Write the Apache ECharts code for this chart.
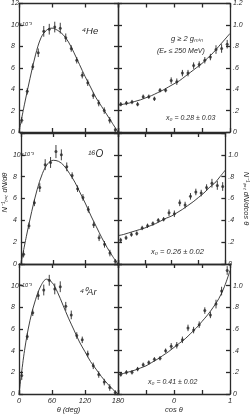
<!DOCTYPE html>
<html><head><meta charset="utf-8">
<script src="https://cdn.jsdelivr.net/npm/echarts@6/dist/echarts.min.js"></script>
<style>html,body{margin:0;padding:0;background:#fff}#c{width:251px;height:415px}</style>
</head><body><div id="c"></div>
<script>
// ---- data ----
const theta = [5,15,25,35,45,55,65,75,85,95,105,115,125,135,145,155,165,175];
const heVal = [1.1,3.8,6.1,7.4,9.4,9.6,9.8,9.7,8.8,7.8,6.7,5.3,4.6,3.4,2.7,2.0,1.1,0.2];
const heErr = [0.3,0.3,0.3,0.4,0.5,0.5,0.5,0.5,0.4,0.3,0.3,0.3,0.3,0.3,0.3,0.3,0.3,0.2];
const oVal  = [0.9,3.5,5.6,7.0,9.1,9.3,10.3,10.0,8.9,8.1,6.9,6.1,5.0,3.6,2.4,1.8,1.0,0.25];
const oErr  = [0.3,0.3,0.3,0.4,0.5,0.5,0.6,0.5,0.4,0.3,0.3,0.3,0.3,0.3,0.3,0.3,0.3,0.2];
const arVal = [1.7,5.3,7.5,9.1,9.6,10.5,9.7,9.9,8.1,7.3,5.4,5.0,3.7,2.6,1.8,1.1,0.6,0.15];
const arErr = [0.4,0.3,0.3,0.4,0.5,0.5,0.5,0.5,0.4,0.4,0.3,0.3,0.3,0.3,0.3,0.3,0.3,0.2];

const thetaCurveX = [0,10,20,30,40,50,60,70,80,90,100,110,120,130,140,150,160,170,180];
const heCurve = [0,2.6,5.0,7.2,8.8,9.5,9.7,9.5,9.1,8.4,7.4,6.3,5.2,4.2,3.2,2.4,1.6,0.8,0];
const oCurve  = [0,2.5,4.8,6.8,8.3,9.2,9.5,9.4,9.0,8.3,7.5,6.5,5.5,4.4,3.4,2.4,1.5,0.7,0];
const arCurve = [0,4.0,6.8,8.7,10.0,10.6,10.3,9.4,8.2,7.0,5.9,4.8,3.9,3.0,2.3,1.6,1.0,0.45,0];

const cosBins = [-0.95,-0.85,-0.75,-0.65,-0.55,-0.45,-0.35,-0.25,-0.15,-0.05,0.05,0.15,0.25,0.35,0.45,0.55,0.65,0.75,0.85,0.95];
const heCos = [0.26,0.27,0.28,0.26,0.33,0.33,0.31,0.39,0.39,0.48,0.47,0.55,0.55,0.62,0.63,0.67,0.70,0.77,0.78,0.82];
const oCos  = [0.22,0.24,0.27,0.28,0.33,0.35,0.37,0.40,0.41,0.47,0.46,0.56,0.54,0.62,0.66,0.65,0.70,0.74,0.72,0.71];
const arCos = [0.18,0.20,0.20,0.23,0.27,0.29,0.32,0.33,0.40,0.44,0.45,0.50,0.61,0.59,0.64,0.77,0.73,0.83,0.95,1.14];
const cosErr = [0.02,0.02,0.02,0.02,0.02,0.02,0.02,0.02,0.02,0.03,0.03,0.03,0.03,0.03,0.03,0.03,0.03,0.04,0.04,0.04];

const cosCurveX = [-1,-0.9,-0.8,-0.7,-0.6,-0.5,-0.4,-0.3,-0.2,-0.1,0,0.1,0.2,0.3,0.4,0.5,0.6,0.7,0.8,0.9,1];
const heCosCurve = [0.25,0.26,0.27,0.285,0.30,0.32,0.34,0.365,0.39,0.42,0.45,0.48,0.52,0.56,0.60,0.64,0.69,0.74,0.80,0.86,0.92];
const oCosCurve  = [0.26,0.27,0.285,0.30,0.315,0.33,0.35,0.37,0.395,0.42,0.44,0.47,0.50,0.535,0.57,0.61,0.65,0.70,0.74,0.80,0.86];
const arCosCurve = [0.18,0.19,0.205,0.22,0.24,0.26,0.29,0.32,0.355,0.39,0.43,0.47,0.51,0.56,0.61,0.67,0.73,0.80,0.88,0.99,1.14];

const thetaTicks = ['0','60','120','180'];
const nuclei = ['\u2074He','\u00b9\u2076O','\u2074\u2070Ar'];
const fitLabels = ['x\u2080 = 0.28 \u00b1 0.03','x\u2080 = 0.26 \u00b1 0.02','x\u2080 = 0.41 \u00b1 0.02'];

// ---- build ----
const FONT = 'Liberation Sans';
const INK = '#2a2a2a';
const rowsTop = [1, 133, 264];
const H = 131;
const leftSets = [[heVal,heErr,heCurve],[oVal,oErr,oCurve],[arVal,arErr,arCurve]];
const rightSets = [[heCos,cosErr,heCosCurve],[oCos,cosErr,oCosCurve],[arCos,cosErr,arCosCurve]];

const grids=[], xAxes=[], yAxes=[], series=[];
const lineStyle = {color: INK, width: 1.3};
const labelStyle = {color: INK, fontSize: 7, fontStyle: 'italic', fontFamily: FONT};

function errRender(params, api){
  const x = api.value(0), y = api.value(1), e = api.value(2);
  const a = api.coord([x, y - e]), b = api.coord([x, y + e]);
  return {type:'line', shape:{x1:a[0], y1:a[1], x2:b[0], y2:b[1]}, style:{stroke: INK, lineWidth: 0.9}};
}

for (let r=0; r<3; r++){
  for (let c=0; c<2; c++){
    const p = grids.length;
    const isLeft = c===0, isBottom = r===2;
    grids.push({left: isLeft?19:118, top: rowsTop[r], width: isLeft?99:112, height: H});
    const axLine = {onZero:false, lineStyle};
    // bottom x
    xAxes.push({
      gridIndex:p, type:'value', position:'bottom',
      min: isLeft?0:-1, max: isLeft?180:1, interval: isLeft?60:0.5,
      axisLine:axLine, axisTick:{inside:true, length:4, lineStyle},
      splitLine:{show:false},
      axisLabel:{show:isBottom, margin:3, ...labelStyle, fontSize:7.5,
        formatter: isLeft ? (v)=>thetaTicks[Math.round(v/60)] : (v)=> (v===0?'0':(v===1?'1':''))},
      name: isBottom ? (isLeft?'\u03b8 (deg)':'cos \u03b8') : '',
      nameLocation:'middle', nameGap: 12,
      nameTextStyle:{color:INK, fontSize:7.5, fontStyle:'italic', fontFamily:FONT}
    });
    // top x
    xAxes.push({
      gridIndex:p, type:'value', position:'top',
      min: isLeft?0:-1, max: isLeft?180:1, interval: isLeft?60:0.5,
      axisLine:axLine, axisTick:{inside:true, length:4, lineStyle},
      splitLine:{show:false}, axisLabel:{show:false}
    });
    // left y
    yAxes.push({
      gridIndex:p, type:'value', position:'left',
      min: 0, max: isLeft?12:1.2, interval: isLeft?2:0.2,
      axisLine:axLine, axisTick:{inside:true, length:4, lineStyle},
      splitLine:{show:false},
      axisLabel:{show:isLeft, align:'left', margin:8, ...labelStyle,
        formatter:(v)=>{
          if (v===12) return r===0 ? '12' : '';
          if (v===10) return '10{s|\u00d710\u207b\u00b3}';
          return String(v);
        },
        rich:{s:{fontSize:5.5, fontStyle:'italic', fontFamily:FONT, color:INK}}
      },
      name: (isLeft && r===1) ? 'N\u207b\u00b9\u209c\u2092\u209c dN/d\u03b8' : '',
      nameLocation:'middle', nameGap: 11, nameRotate: 90,
      nameTextStyle:{color:INK, fontSize:7.5, fontStyle:'italic', fontFamily:FONT, padding:[0,0,0,12]}
    });
    // right y
    yAxes.push({
      gridIndex:p, type:'value', position:'right',
      min: 0, max: isLeft?12:1.2, interval: isLeft?2:0.2,
      axisLine:axLine, axisTick:{inside:true, length:4, lineStyle},
      splitLine:{show:false},
      axisLabel:{show:!isLeft, margin:3, ...labelStyle,
        formatter:(v)=>{
          const t = Math.round(v*10)/10;
          if (t===0) return '0';
          if (t===1.2 && r!==0) return '';
          return t.toFixed(1).replace(/^0/,'');
        }},
      name: (!isLeft && r===1) ? 'N\u207b\u00b9\u209c\u2092\u209c dN/dcos \u03b8' : '',
      nameLocation:'middle', nameGap: 14, nameRotate: -90,
      nameTextStyle:{color:INK, fontSize:7.5, fontStyle:'italic', fontFamily:FONT}
    });
    const xs = isLeft ? theta : cosBins;
    const cx = isLeft ? thetaCurveX : cosCurveX;
    const set = isLeft ? leftSets[r] : rightSets[r];
    const yi = isLeft ? 2*p : 2*p+1;
    series.push({
      type:'line', xAxisIndex:2*p, yAxisIndex:yi, smooth:0.35, showSymbol:false,
      lineStyle:{color:INK, width:0.9}, silent:true,
      data: cx.map((x,i)=>[x, set[2][i]])
    });
    series.push({
      type:'custom', xAxisIndex:2*p, yAxisIndex:yi, renderItem: errRender,
      data: xs.map((x,i)=>[x, set[0][i], set[1][i]]), silent:true
    });
    series.push({
      type:'scatter', xAxisIndex:2*p, yAxisIndex:yi, symbol:'circle', symbolSize:3,
      itemStyle:{color:INK}, silent:true,
      data: xs.map((x,i)=>[x, set[0][i]])
    });
  }
}

const tStyle = (s, size)=>({text:s, fill:INK, fontSize:size, fontStyle:'italic', fontFamily:FONT});
const graphic = [
  {type:'text', left:82, top:26, style:tStyle(nuclei[0], 9.5)},
  {type:'text', left:88, top:149, style:tStyle(nuclei[1], 10)},
  {type:'text', left:80, top:287, style:tStyle(nuclei[2], 9.5)},
  {type:'text', left:171, top:35, style:tStyle('g \u2265 2 g\u2098\u1d62\u2099', 7.5)},
  {type:'text', left:157, top:48, style:tStyle('(E\u2091 \u2264 250 MeV)', 7)},
  {type:'text', left:166, top:115, style:tStyle(fitLabels[0], 7)},
  {type:'text', left:151, top:248, style:tStyle(fitLabels[1], 7.5)},
  {type:'text', left:148, top:379, style:tStyle(fitLabels[2], 7)}
];

const chart = echarts.init(document.getElementById('c'), null, {renderer:'canvas'});
chart.setOption({
  animation:false, backgroundColor:'#fff',
  grid: grids, xAxis: xAxes, yAxis: yAxes, series, graphic
});
</script></body></html>
